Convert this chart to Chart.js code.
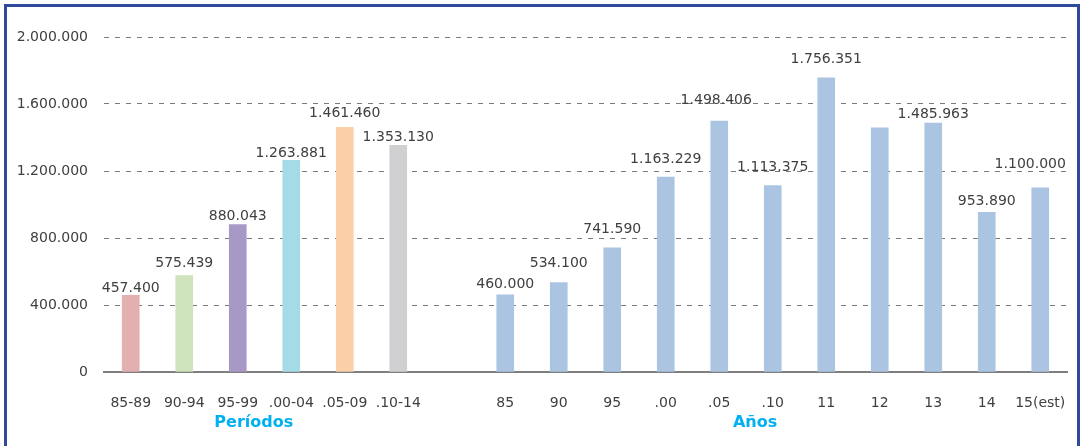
<!DOCTYPE html>
<html>
<head>
<meta charset="utf-8">
<script src="https://cdn.jsdelivr.net/npm/chart.js@4"></script>
<style>
  html, body { margin: 0; padding: 0; background: #fff; }
  #wrap { position: relative; width: 1083px; height: 446px; }
  #frame {
    position: absolute; left: 4px; top: 4px; width: 1070px; height: 460px;
    border: 3px solid #2f4a9c; pointer-events: none;
  }
</style>
</head>
<body>
<div id="wrap">
  <canvas id="chart" width="1083" height="446"></canvas>
  <div id="frame"></div>
</div>
<script>
// periods (5-year blocks), a spacer, then single years
const periodLabels = ["85-89", "90-94", "95-99", ".00-04", ".05-09", ".10-14"];
const periodValues = [457400, 575439, 880043, 1263881, 1461460, 1353130];
const periodColors = ["#e3b0b0", "#cfe3bd", "#a898c5", "#a5dbe6", "#fbcfa8", "#d0d0d2"];

const yearLabels = ["85", "90", "95", ".00", ".05", ".10", "11", "12", "13", "14", "15(est)"];
const yearValues = [460000, 534100, 741590, 1163229, 1498406, 1113375, 1756351, 1457000, 1485963, 953890, 1100000];
const yearColor = "#abc4e2";

const yTicks = [0, 400000, 800000, 1200000, 1600000, 2000000];

// value labels: [dx, lift above bar top]; null = no label
const labelOffsets = [
  [0, 7], [0, 12], [0, 8], [0, 7], [0, 14], [0, 8],
  null,
  [0, 11], [0, 19], [0, 18], [0, 18], [-3, 21], [0, 18], [0, 18], null, [0, 9], [0, 11], [-10, 23]
];

const labels = [...periodLabels, "", ...yearLabels];
const values = [...periodValues, null, ...yearValues];
const colors = [...periodColors, "rgba(0,0,0,0)", ...yearLabels.map(() => yearColor)];

const fmt = (v) => v.toString().replace(/\B(?=(\d{3})+(?!\d))/g, ".");

const FONT = "'DejaVu Sans', sans-serif";
const TEXT = "#404040";

const valueLabels = {
  id: "valueLabels",
  afterDatasetsDraw(chart) {
    const { ctx } = chart;
    const meta = chart.getDatasetMeta(0);
    ctx.save();
    ctx.font = "14px " + FONT;
    ctx.fillStyle = TEXT;
    ctx.textAlign = "center";
    ctx.textBaseline = "middle";
    meta.data.forEach((bar, i) => {
      const off = labelOffsets[i];
      if (values[i] == null || !off) return;
      ctx.fillText(fmt(values[i]), bar.x + off[0], bar.y - off[1]);
    });
    ctx.restore();
  }
};

const groupTitles = {
  id: "groupTitles",
  afterDraw(chart) {
    const { ctx } = chart;
    const x = chart.scales.x;
    ctx.save();
    ctx.font = "bold 16px " + FONT;
    ctx.fillStyle = "#00b0f0";
    ctx.textAlign = "center";
    ctx.textBaseline = "middle";
    ctx.fillText("Períodos", x.getPixelForValue(2.3), 423);
    ctx.fillText("Años", x.getPixelForValue(11.67), 423);
    ctx.restore();
  }
};

new Chart(document.getElementById("chart"), {
  type: "bar",
  data: {
    labels,
    datasets: [{
      data: values,
      backgroundColor: colors,
      barThickness: 17,
      borderWidth: 0
    }]
  },
  options: {
    responsive: false,
    animation: false,
    layout: { padding: { top: 37, right: 16, bottom: 0, left: 0 } },
    plugins: { legend: { display: false }, tooltip: { enabled: false } },
    scales: {
      x: {
        grid: { display: false },
        border: { display: true, color: "#7f7f7f", width: 2 },
        ticks: { color: TEXT, font: { family: FONT, size: 14 }, padding: 15, maxRotation: 0, autoSkip: false },
        afterFit(scale) { scale.height = 74; }
      },
      y: {
        min: 0,
        max: 2000000,
        afterBuildTicks(scale) { scale.ticks = yTicks.map((v) => ({ value: v })); },
        grid: { color: "#7a7a7a", lineWidth: 1, drawTicks: false },
        border: { display: false, dash: [5, 6] },
        ticks: { color: TEXT, font: { family: FONT, size: 14 }, padding: 16, callback: (v) => fmt(v) },
        afterFit(scale) { scale.width = 104; }
      }
    }
  },
  plugins: [valueLabels, groupTitles]
});
</script>
</body>
</html>
